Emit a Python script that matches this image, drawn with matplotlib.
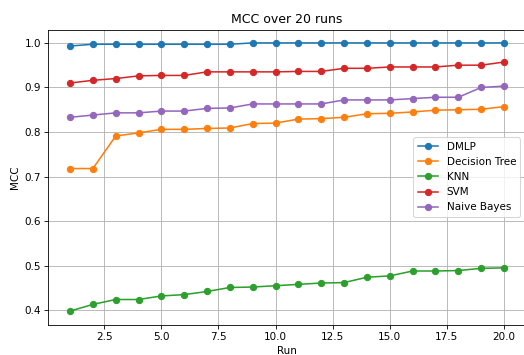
import numpy as np
import matplotlib
matplotlib.use('Agg')
import matplotlib.pyplot as plt

# MCC par run pour chaque modele
runs = list(range(1, 21))
dmlp = [0.993, 0.997, 0.997, 0.997, 0.997, 0.997, 0.997, 0.997, 1.0, 1.0,
        1.0, 1.0, 1.0, 1.0, 1.0, 1.0, 1.0, 1.0, 1.0, 1.0]
decision_tree = [0.718, 0.718, 0.791, 0.798, 0.806, 0.806, 0.808, 0.809, 0.819, 0.820,
                 0.829, 0.830, 0.833, 0.841, 0.842, 0.845, 0.849, 0.850, 0.851, 0.857]
knn = [0.398, 0.413, 0.424, 0.424, 0.432, 0.435, 0.442, 0.451, 0.452, 0.455,
       0.458, 0.461, 0.462, 0.474, 0.477, 0.488, 0.488, 0.489, 0.494, 0.495]
svm = [0.910, 0.916, 0.920, 0.926, 0.927, 0.927, 0.935, 0.935, 0.935, 0.935,
       0.936, 0.936, 0.943, 0.943, 0.946, 0.946, 0.946, 0.950, 0.950, 0.957]
naive_bayes = [0.833, 0.838, 0.843, 0.843, 0.847, 0.847, 0.853, 0.854, 0.863, 0.863,
               0.863, 0.863, 0.872, 0.872, 0.872, 0.875, 0.878, 0.878, 0.900, 0.903]

# dpi 75 -> 524x355 px
fig = plt.figure(figsize=(524 / 75, 355 / 75), dpi=75)
ax = fig.add_axes([0.0922, 0.0859, 0.911, 0.831])

ax.plot(runs, dmlp, marker='o', label='DMLP')
ax.plot(runs, decision_tree, marker='o', label='Decision Tree')
ax.plot(runs, knn, marker='o', label='KNN')
ax.plot(runs, svm, marker='o', label='SVM')
ax.plot(runs, naive_bayes, marker='o', label='Naive Bayes')

ax.set_title("MCC over 20 runs")
ax.set_xlabel("Run")
ax.set_ylabel("MCC")
ax.grid(True)
ax.legend(loc='center right')

fig.savefig("out.png", dpi=75)
